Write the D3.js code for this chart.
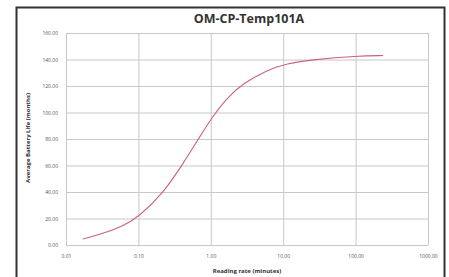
<!DOCTYPE html>
<html>
<head>
<meta charset="utf-8">
<script src="https://cdn.jsdelivr.net/npm/d3@7"></script>
<style>
  body { margin: 0; background: #fff; }
  svg { display: block; }
</style>
</head>
<body>
<div id="chart"></div>
<script>
// Data
const readingRate = [0.017, 0.03, 0.06, 0.1, 0.22, 0.41, 0.71, 1.0, 1.66, 2.8, 6, 11, 26, 105, 240];
const batteryLife = [4.5, 8, 14, 21, 39, 61, 82, 95, 111, 122, 132, 137, 140, 142.6, 143];
const xTicks = [0.01, 0.1, 1, 10, 100, 1000];
const yTicks = [0, 20, 40, 60, 80, 100, 120, 140, 160];

const width = 449, height = 277;
const margin = { top: 33, right: 21, bottom: 32, left: 66 };

const svg = d3.select('#chart').append('svg')
  .attr('width', width)
  .attr('height', height);

// Outer frame
svg.append('rect')
  .attr('x', 16.5).attr('y', 7.5)
  .attr('width', 428).attr('height', 290)
  .attr('fill', 'none')
  .attr('stroke', '#333')
  .attr('stroke-width', 2);

const x = d3.scaleLog()
  .domain([0.01, 1000])
  .range([margin.left, width - margin.right]);

const y = d3.scaleLinear()
  .domain([0, 160])
  .range([height - margin.bottom, margin.top]);

// Grid
svg.append('g')
  .attr('class', 'grid')
  .attr('transform', `translate(0, ${height - margin.bottom})`)
  .call(d3.axisBottom(x).tickValues(xTicks).tickSize(-(height - margin.top - margin.bottom)).tickFormat(() => ''))
  .call(g => g.select('.domain').remove())
  .call(g => g.selectAll('line').attr('stroke', '#c8c8c8'));

svg.append('g')
  .attr('class', 'grid')
  .attr('transform', `translate(${margin.left}, 0)`)
  .call(d3.axisLeft(y).tickValues(yTicks).tickSize(-(width - margin.left - margin.right)).tickFormat(() => ''))
  .call(g => g.select('.domain').remove())
  .call(g => g.selectAll('line').attr('stroke', '#c8c8c8'));

// Axes labels
const xAxis = svg.append('g')
  .attr('transform', `translate(0, ${height - margin.bottom})`)
  .call(d3.axisBottom(x).tickValues(xTicks).tickSize(0).tickPadding(9).tickFormat(d3.format('.2f')));
xAxis.select('.domain').remove();
xAxis.selectAll('text').attr('font-family', 'Open Sans').attr('font-size', 5).attr('fill', '#555');

const yAxis = svg.append('g')
  .attr('transform', `translate(${margin.left}, 0)`)
  .call(d3.axisLeft(y).tickValues(yTicks).tickSize(0).tickPadding(8).tickFormat(d3.format('.2f')));
yAxis.select('.domain').remove();
yAxis.selectAll('text').attr('font-family', 'Open Sans').attr('font-size', 5).attr('fill', '#555');

// Curve
const line = d3.line()
  .x((d, i) => x(readingRate[i]))
  .y(d => y(d))
  .curve(d3.curveBasis);

svg.append('path')
  .datum(batteryLife)
  .attr('d', line)
  .attr('fill', 'none')
  .attr('stroke', '#c9637c')
  .attr('stroke-width', 1.1);

// Titles
svg.append('text')
  .attr('x', 249).attr('y', 23)
  .attr('text-anchor', 'middle')
  .attr('font-family', 'Open Sans')
  .attr('font-weight', 'bold')
  .attr('font-size', 12.5)
  .attr('fill', '#333')
  .text('OM-CP-Temp101A');

svg.append('text')
  .attr('x', (margin.left + width - margin.right) / 2)
  .attr('y', 273)
  .attr('text-anchor', 'middle')
  .attr('font-family', 'Open Sans')
  .attr('font-weight', 'bold')
  .attr('font-size', 6)
  .attr('fill', '#333')
  .text('Reading rate (minutes)');

svg.append('text')
  .attr('transform', `translate(30, 138) rotate(-90)`)
  .attr('text-anchor', 'middle')
  .attr('font-family', 'Open Sans')
  .attr('font-weight', 'bold')
  .attr('font-size', 6)
  .attr('fill', '#333')
  .text('Average Battery Life (months)');
</script>
</body>
</html>
